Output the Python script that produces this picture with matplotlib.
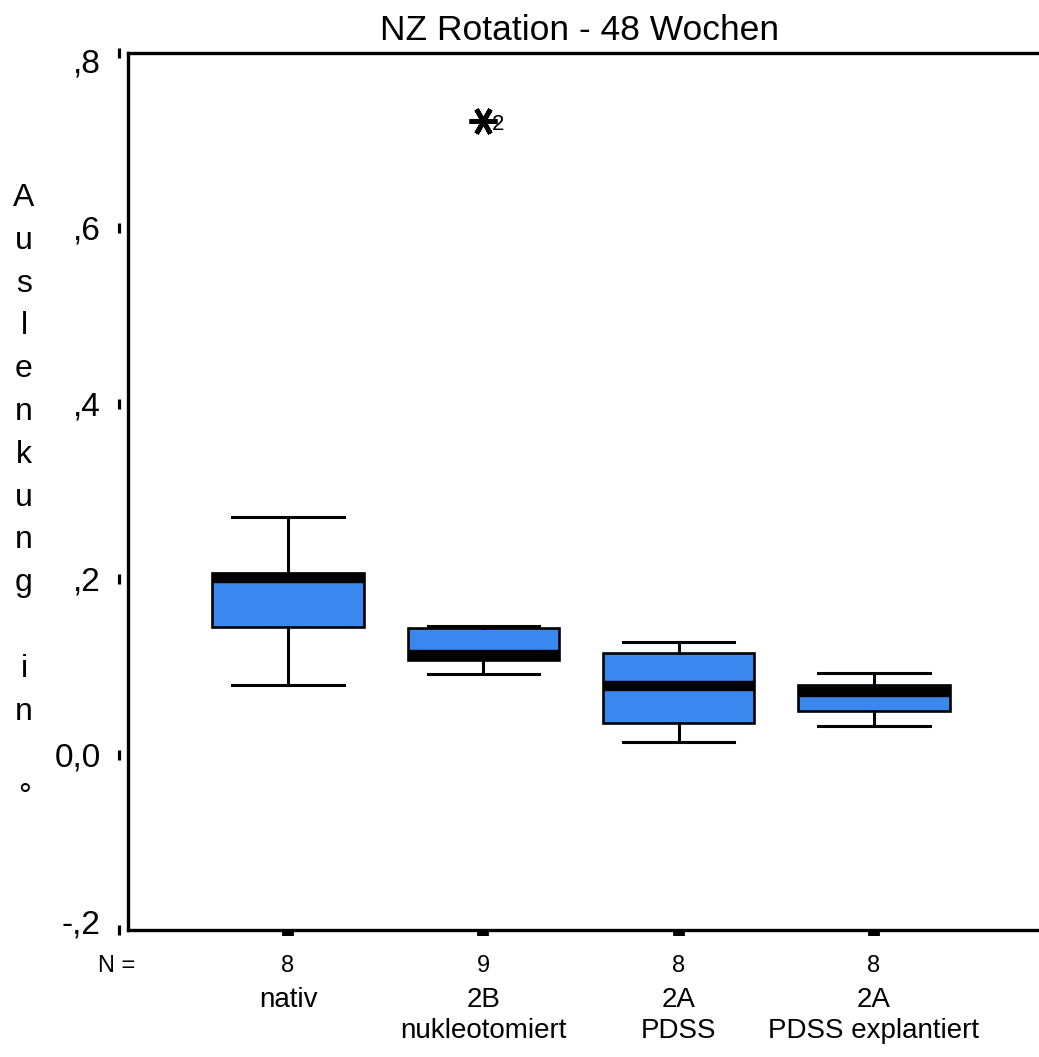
import matplotlib
matplotlib.use("Agg")
import matplotlib.pyplot as plt
from matplotlib.transforms import ScaledTranslation

# --- data -----------------------------------------------------------------
groups = ["nativ", "2B\nnukleotomiert", "2A\nPDSS", "2A\nPDSS explantiert"]
n_values = [8, 9, 8, 8]
whisker_low = [0.079, 0.092, 0.014, 0.033]
q1_values = [0.146, 0.108, 0.036, 0.050]
medians = [0.201, 0.1135, 0.078, 0.0715]
q3_values = [0.207, 0.144, 0.116, 0.079]
whisker_high = [0.271, 0.147, 0.128, 0.093]
outliers = [[], [0.722], [], []]
outlier_ids = [[], ["2"], [], []]

y_ticks = [-0.2, 0.0, 0.2, 0.4, 0.6, 0.8]
y_tick_labels = ["-,2", "0,0", ",2", ",4", ",6", ",8"]
y_label = "Auslenkung in °"
title = "NZ Rotation - 48 Wochen"

BOX_BLUE = "#3b87f0"
FONT = ["Liberation Sans", "DejaVu Sans"]

W, H = 1039, 1057
fig = plt.figure(figsize=(W / 100, H / 100), dpi=100)
plt.rcParams["font.family"] = FONT


def fx(px):
    return px / W


def fy(py):
    return 1 - py / H


ax = fig.add_axes([fx(127.5), fy(930), 1 - fx(127.5), fy(53) - fy(930)])

stats = []
for i in range(len(groups)):
    stats.append(dict(med=medians[i], q1=q1_values[i], q3=q3_values[i],
                      whislo=whisker_low[i], whishi=whisker_high[i],
                      fliers=outliers[i]))
positions = list(range(1, len(groups) + 1))

ax.bxp(stats, positions=positions, widths=0.775, capwidths=0.57,
       patch_artist=True, manage_ticks=False,
       boxprops=dict(facecolor=BOX_BLUE, edgecolor="black", linewidth=1.9),
       medianprops=dict(color="black", linewidth=7.5, solid_capstyle="butt"),
       whiskerprops=dict(color="black", linewidth=2.2),
       capprops=dict(color="black", linewidth=2.2),
       flierprops=dict(marker=(6, 2, 90), markersize=20, markeredgewidth=3.4,
                       markeredgecolor="black", markerfacecolor="black"))

# case numbers next to extreme values
for pos, vals, ids in zip(positions, outliers, outlier_ids):
    for v, lab in zip(vals, ids):
        ax.annotate(lab, (pos, v), xytext=(10.5, -2.5), textcoords="offset points",
                    ha="center", va="center", fontsize=16, color="black")

ax.set_xlim(0.178, 4.845)
ax.set_ylim(-0.2, 0.8)

for side in ("left", "top", "bottom"):
    ax.spines[side].set_linewidth(2.4)
ax.spines["right"].set_visible(False)

# y axis: short vertical tick bars set off from the spine
ax.set_yticks([])
tick_tr = ax.get_yaxis_transform() + ScaledTranslation(-8.5 / 100, 0, fig.dpi_scale_trans)
ax.plot([0] * len(y_ticks), y_ticks, linestyle="none", marker="|",
        markersize=7.5, markeredgewidth=2.3, color="black",
        transform=tick_tr, clip_on=False)

label_shift = {0.8: -11, -0.2: 5}
for v, lab in zip(y_ticks, y_tick_labels):
    dy = label_shift.get(v, -3) / 100
    tr = ax.get_yaxis_transform() + ScaledTranslation(-27 / 100, dy, fig.dpi_scale_trans)
    ax.text(0, v, lab, transform=tr, ha="right", va="center", fontsize=24)

# x axis: small square tick marks under each group
ax.set_xticks(positions)
ax.set_xticklabels([])
ax.tick_params(axis="x", direction="out", length=4.3, width=8.5, color="black")

# N row and group labels
fig.text(fx(135), fy(966), "N =", ha="right", va="center", fontsize=17)
for pos, n, name in zip(positions, n_values, groups):
    x_fig = fig.transFigure.inverted().transform(ax.transData.transform((pos, 0)))[0]
    fig.text(x_fig, fy(966), str(n), ha="center", va="center", fontsize=17)
    fig.text(x_fig, fy(987), name, ha="center", va="top", fontsize=20,
             linespacing=1.25)

# vertical axis title, one character per line
for k, ch in enumerate(y_label):
    fig.text(fx(24), fy(198 + 42.8 * k), ch, ha="center", va="center", fontsize=23)

fig.text(fx(579), fy(40), title, ha="center", va="baseline", fontsize=25.5)

fig.savefig("out.png", dpi=100)
